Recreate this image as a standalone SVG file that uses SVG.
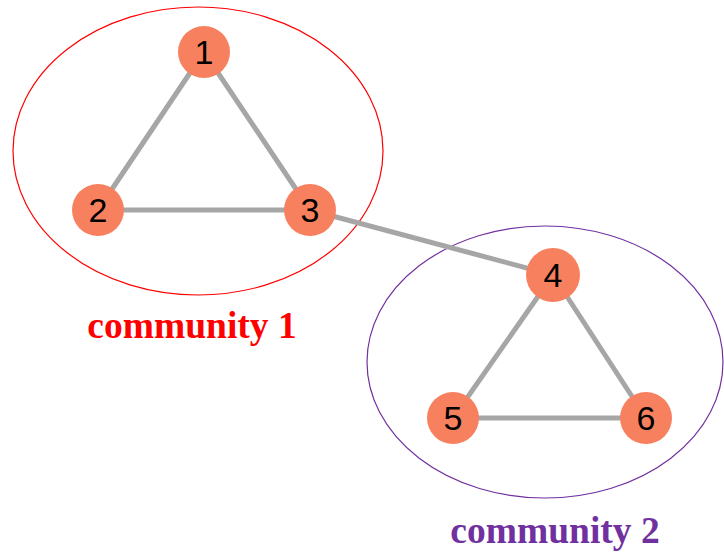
<svg xmlns="http://www.w3.org/2000/svg" width="724" height="555" viewBox="0 0 724 555">
  <style>
    .edge { stroke: #a6a6a6; stroke-width: 5; fill: none; }
    .node circle { fill: #f7805e; }
    .node text { font-family: "Liberation Sans", Arial, sans-serif; font-size: 34px; fill: #000; text-anchor: middle; }
    .community { fill: none; stroke-width: 1.2; }
    .label { font-family: "Liberation Serif", "Times New Roman", serif; font-weight: bold; font-size: 37.5px; text-anchor: middle; }
  </style>
  <rect width="724" height="555" fill="#ffffff"/>

  <!-- community outlines -->
  <g id="communities">
    <ellipse class="community" cx="198" cy="151" rx="185" ry="144" stroke="#ff0000"/>
    <ellipse class="community" cx="545" cy="362" rx="178" ry="136" stroke="#7030a0"/>
  </g>

  <!-- connectors -->
  <g id="edges">
    <line class="edge" x1="204" y1="52" x2="98" y2="210"/>
    <line class="edge" x1="204" y1="52" x2="310" y2="210"/>
    <line class="edge" x1="98" y1="210" x2="310" y2="210"/>
    <line class="edge" x1="310" y1="210" x2="553" y2="275"/>
    <line class="edge" x1="553" y1="275" x2="453" y2="418"/>
    <line class="edge" x1="553" y1="275" x2="646" y2="418"/>
    <line class="edge" x1="453" y1="418" x2="646" y2="418"/>
  </g>

  <g id="node1" class="node"><circle cx="204" cy="52" r="26"/><text x="204" y="64">1</text></g>
  <g id="node2" class="node"><circle cx="98" cy="210" r="26"/><text x="98" y="222">2</text></g>
  <g id="node3" class="node"><circle cx="310" cy="210" r="26"/><text x="310" y="222">3</text></g>
  <g id="node4" class="node"><circle cx="553" cy="275" r="27"/><text x="553" y="287">4</text></g>
  <g id="node5" class="node"><circle cx="453" cy="418" r="26"/><text x="453" y="430">5</text></g>
  <g id="node6" class="node"><circle cx="646" cy="418" r="26"/><text x="646" y="430">6</text></g>

  <text id="label1" class="label" x="192" y="338" fill="#ff0000">community 1</text>
  <text id="label2" class="label" x="555" y="543" fill="#7030a0">community 2</text>
</svg>
